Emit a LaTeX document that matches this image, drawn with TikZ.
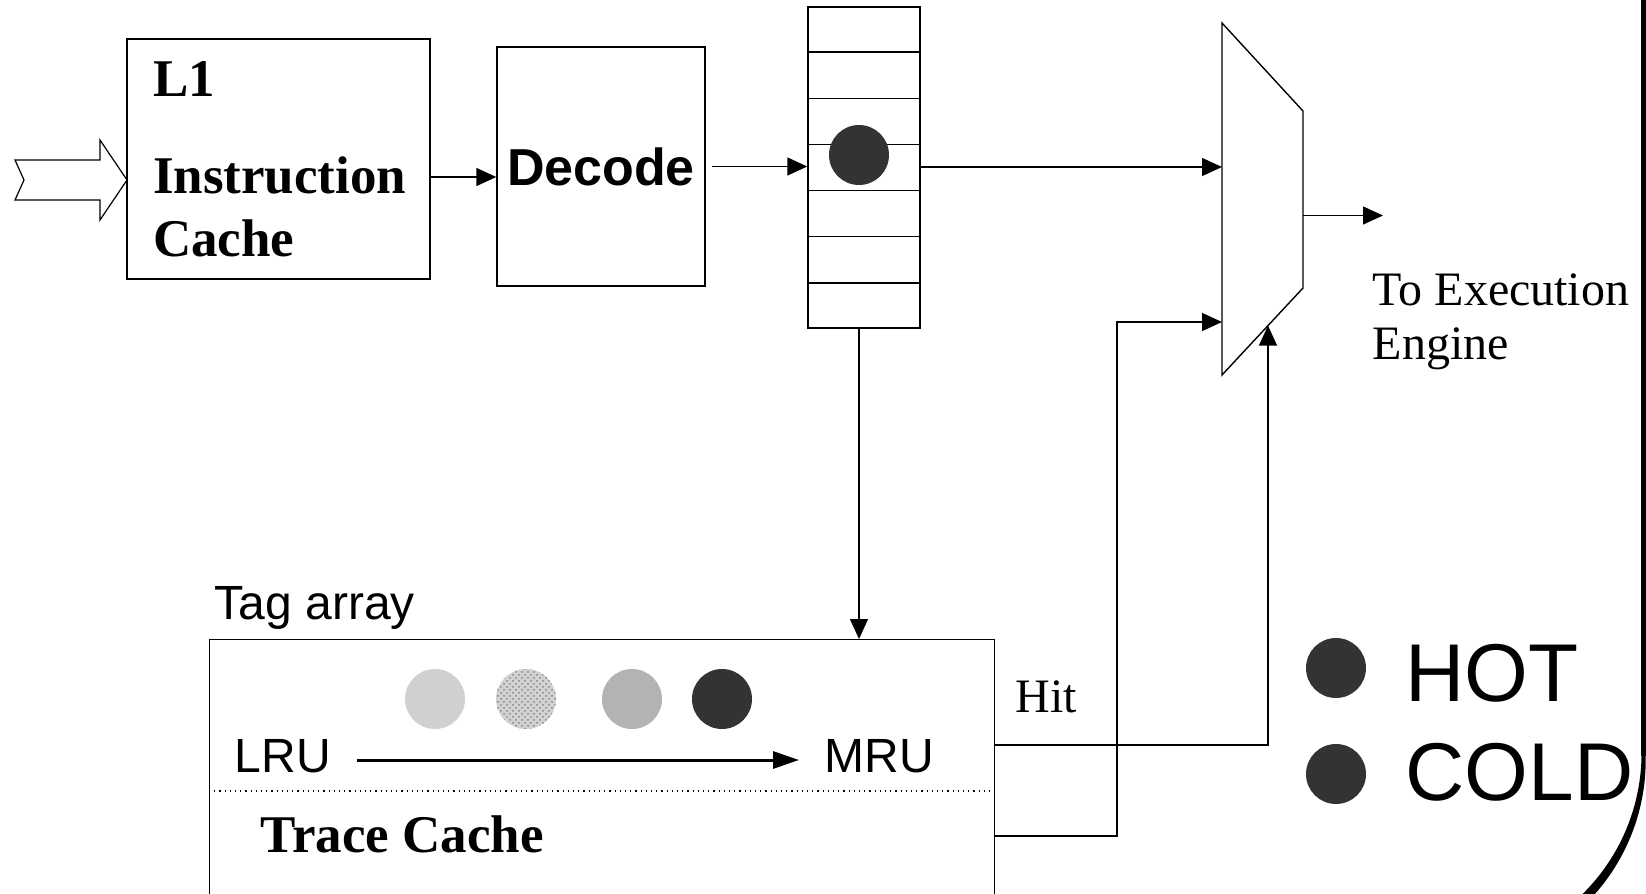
\documentclass[tikz,border=0pt]{standalone}
\usepackage{fontspec}
\setmainfont{Liberation Serif}
\setsansfont{Liberation Sans}
\usetikzlibrary{arrows.meta,positioning,calc,patterns}
\definecolor{hotgray}{HTML}{333333}
\definecolor{lightdot}{HTML}{D0D0D0}
\definecolor{middot}{HTML}{B3B3B3}

\begin{document}
\begin{tikzpicture}[x=0.5pt, y=-0.5pt, line width=0.7pt,
  block/.style={draw=black, line width=0.7pt, inner sep=0pt},
  arrow/.style={-{Triangle[length=10pt,width=9pt]}, line width=0.7pt, draw=black},
  dot/.style={circle, inner sep=0pt, minimum size=30pt},
  lbl/.style={anchor=base west, inner sep=0pt},
  serifbig/.style={font=\fontsize{26.5}{31.5}\selectfont\bfseries},
  serifmid/.style={font=\fontsize{24}{27}\selectfont},
  sansmid/.style={font=\sffamily\fontsize{24}{28}\selectfont},
  sansbig/.style={font=\sffamily\fontsize{41}{49}\selectfont}]
  \useasboundingbox (0,0) rectangle (1646,894);

  % front end
  \draw[line width=0.6pt] (15,160) -- (100,160) -- (100,140) -- (127,180) -- (100,220)
    -- (100,200) -- (15,200) -- (24,180) -- cycle;
  \node[block, serifbig, minimum width=151.5pt, minimum height=120pt, text width=125.5pt,
    inner xsep=13pt, align=left] (l1) at (278.5,159) {L1\\[17pt]Instruction\\Cache};
  \node[block, font=\sffamily\bfseries\fontsize{26}{30}\selectfont, minimum width=104pt,
    minimum height=119.5pt] (decode) at (601,166.5) {Decode};
  \node[block, minimum width=56pt, minimum height=160.5pt] (queue) at (864,167.5) {};
  \foreach \k in {1,...,6}
    \draw[line width=0.9pt] ($(queue.north west)!\k/7!(queue.south west)$) -- ($(queue.north east)!\k/7!(queue.south east)$);
  \node[dot, fill=hotgray] (qdot) at (859,155) {};

  % selector
  \coordinate (mtl) at (1222,23);
  \coordinate (mtr) at (1303,111);
  \coordinate (mbr) at (1303,288);
  \coordinate (mbl) at (1222,375);
  \draw (mtl) -- (mtr) -- (mbr) -- (mbl) -- cycle;
  \coordinate (hitin) at ($(mbr)!0.432!(mbl)$);
  \coordinate (out) at (1383,215.5);
  \node[lbl, serifmid, align=left] (exec) at (1372,359) {To Execution\\Engine};

  \draw[arrow] (l1.east |- 0,177) -- (decode.west |- 0,177);
  \draw[arrow] ([xshift=3pt]decode.east) -- (queue.west |- decode.east);
  \draw[arrow] (queue.east |- 0,167) -- (mtl |- 0,167);
  \draw[arrow] (mbr |- out) -- (out);

  % trace cache
  \node[block, anchor=north west, minimum width=392.5pt, minimum height=160.5pt] (tc) at (209,639) {};
  \node[lbl, sansmid] (tag) at (214,619) {Tag array};
  \node[dot, fill=lightdot] (t1) at (435,699) {};
  \node[dot, fill=gray!35, postaction={pattern=crosshatch dots, pattern color=gray!95}] (t2) at (526,699) {};
  \node[dot, fill=middot] (t3) at (632,699) {};
  \node[dot, fill=hotgray] (t4) at (722,699) {};
  \node[lbl, sansmid] (lru) at (234,772) {LRU};
  \node[lbl, sansmid] (mru) at (824,772) {MRU};
  \draw[-{Triangle[length=13pt,width=8.5pt]}, line width=1.5pt, shorten <=13pt, shorten >=12.5pt]
    (lru.east |- 0,760) -- (mru.west |- 0,760);
  \draw[dotted, line width=0.6pt] (tc.west |- 0,791) -- ([xshift=-2.5pt]tc.east |- 0,791);
  \node[lbl, font=\fontsize{26.5}{30}\selectfont\bfseries] (trace) at (260,852) {Trace Cache};
  \node[lbl, serifmid] (hit) at (1015,712) {Hit};

  \draw[arrow] ([xshift=-2.5pt]queue.south) -- ([xshift=-2.5pt]queue.south |- tc.north);
  \draw[arrow] (tc.east |- 0,745) -| (hitin);
  \draw[arrow] (tc.east |- 0,836) -| (1117,322) -- (mtl |- 0,322);

  % legend
  \node[dot, fill=hotgray] (hotdot) at (1336,668) {};
  \node[dot, fill=hotgray] (colddot) at (1336,774) {};
  \node[lbl, sansbig] (hot) at (1405,701) {HOT};
  \node[lbl, sansbig] (cold) at (1405,800) {COLD};

  % frame corner
  \draw[line width=2.2pt] (1643.5,-5) -- (1643.5,756);
  \fill (1645.7,753) -- (1645.7,760) arc[start angle=0, end angle=55, radius=202.2] -- (1557.1,915.2)
    arc[start angle=55, end angle=0, radius=198] -- cycle;
\end{tikzpicture}
\end{document}
